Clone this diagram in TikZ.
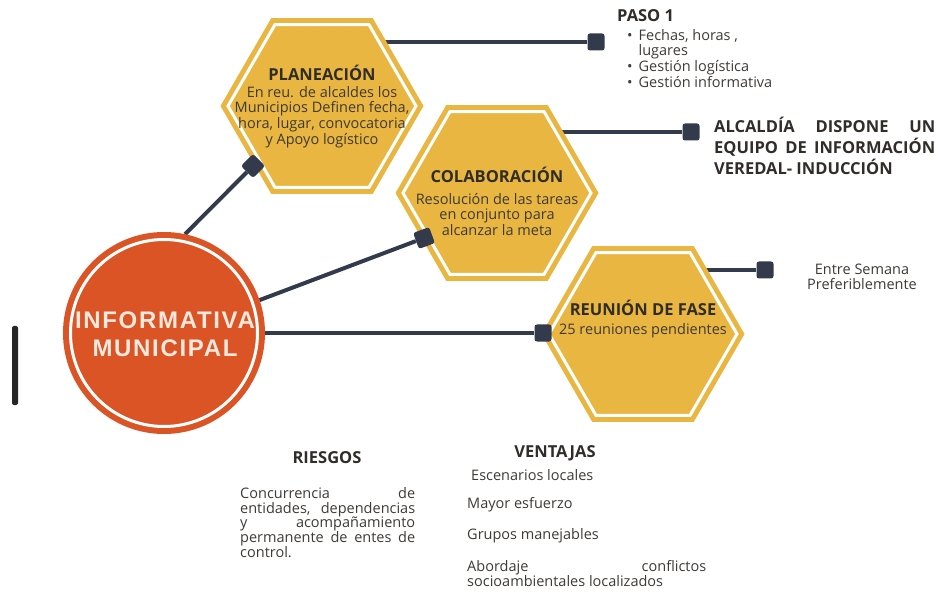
\documentclass[tikz,border=0pt]{standalone}
\usepackage{fontspec}
\setmainfont{Open Sans}
\newfontfamily\circfont[LetterSpace=7]{Liberation Sans}
\usetikzlibrary{shapes.geometric}
\definecolor{hexyel}{RGB}{233,182,66}
\definecolor{orgred}{RGB}{218,84,38}
\definecolor{navy}{RGB}{51,58,76}
\definecolor{darktxt}{RGB}{48,44,40}
\definecolor{bodytxt}{RGB}{62,58,54}
\definecolor{cream}{RGB}{245,232,220}
\pgfdeclarelayer{background}
\pgfsetlayers{background,main}
\hyphenpenalty=10000

\begin{document}
\begin{tikzpicture}
  [x=1pt,y=-1pt,
   hexa/.style={regular polygon, regular polygon sides=6, minimum size=188pt, inner sep=0pt,
     fill=hexyel, draw=hexyel, line width=5pt, double=white, double distance=3pt},
   hub/.style={circle, minimum size=187pt, inner sep=0pt, outer sep=7.5pt,
     fill=orgred, draw=orgred, line width=6pt, double=white, double distance=3pt},
   sqr/.style={rectangle, minimum size=17pt, inner sep=0pt, rounded corners=2.5pt, fill=navy},
   link/.style={draw=navy, line width=4pt},
   title/.style={inner sep=0pt, text=darktxt, font=\bfseries\fontsize{16.5}{19}\selectfont},
   body/.style={inner sep=0pt, text=bodytxt, align=center, font=\fontsize{14.5}{15.6}\selectfont},
   note/.style={inner sep=0pt, text=bodytxt, font=\fontsize{14.5}{14.8}\selectfont}]
  \useasboundingbox (0,0) rectangle (939,593);
  \fill[black!85, rounded corners=2pt] (12,326) rectangle (18,405);

  \node[hexa] (plan) at (322,106) {};
  \node[hexa] (cola) at (497,193) {};
  \node[hexa] (reun) at (643,334) {};
  \node[hub] (mun) at (164,333) {};
  \node[inner sep=0pt, align=center, text=cream,
    font=\circfont\bfseries\fontsize{24}{28}\selectfont] (muntxt) at (165,334) {INFORMATIVA\\MUNICIPAL};

  \node[title] (plantit) at (322,73) {PLANEACIÓN};
  \node[body] (planbody) at (322,117) {En reu. de alcaldes los\\Municipios Definen fecha,\\hora, lugar, convocatoria\\y Apoyo logístico};
  \node[title] (colatit) at (497,175) {COLABORACIÓN};
  \node[body] (colabody) at (497,214.5) {Resolución de las tareas\\en conjunto para\\alcanzar la meta};
  \node[title] (reuntit) at (643,308) {REUNIÓN DE FASE};
  \node[body] (reunbody) at (643,331) {25 reuniones pendientes};

  \node[sqr] (sq1) at (596,42) {};
  \node[sqr] (sq2) at (691,132) {};
  \node[sqr] (sq3) at (765,270) {};
  \node[sqr, rotate=45] (sq4) at (253,166) {};
  \node[sqr, rotate=20] (sq5) at (424,238) {};
  \node[sqr] (sq6) at (543,333) {};

  \begin{pgfonlayer}{background}
    \foreach \s/\h in {sq1/plan,sq2/cola,sq3/reun}
      \draw[link] (\s) -- (\s -| \h);
    \foreach \from/\to in {mun.78/sq4,mun.19/sq5,mun.east/sq6}
      \draw[link] (\from) -- (\to);
  \end{pgfonlayer}

  \node[title, anchor=west] (paso) at (617,16) {PASO 1};
  \node[note, anchor=north west, font=\fontsize{14.5}{15.3}\selectfont] (pasolist) at (627,29)
    {\begin{tabular}{@{}l@{\hspace{6pt}}l@{}}
       \textbullet & Fechas, horas ,\\
                   & lugares\\
       \textbullet & Gestión logística\\
       \textbullet & Gestión informativa
     \end{tabular}};

  \node[inner sep=0pt, anchor=north west, text width=221pt, align=justify, text=darktxt,
    font=\bfseries\fontsize{16.5}{21}\selectfont] (alcaldia) at (714,117)
    {ALCALDÍA DISPONE UN\linebreak EQUIPO DE INFORMACIÓN\linebreak VEREDAL- INDUCCIÓN};

  \node[note, align=center, font=\fontsize{14.5}{15}\selectfont] (semana) at (862,277)
    {Entre Semana\\Preferiblemente};

  \node[title] (riesgos) at (327,458) {RIESGOS};
  \node[note, anchor=north west, text width=175pt, align=justify] (riesgotxt) at (240,487)
    {Concurrencia de\linebreak entidades, dependencias\linebreak y acompañamiento\linebreak permanente de entes de\linebreak control.};

  \node[title] (ventajas) at (555,453) {VENTAJAS};
  \node[note, anchor=west] (v1) at (471,475) {Escenarios locales};
  \node[note, anchor=west] (v2) at (467,505) {Mayor esfuerzo};
  \node[note, anchor=west] (v3) at (467,536) {Grupos manejables};
  \node[note, anchor=north west, text width=239pt, align=justify,
    font=\fontsize{14.5}{15.2}\selectfont] (v4) at (467,560)
    {Abordaje conflictos\linebreak socioambientales localizados};
\end{tikzpicture}
\end{document}
